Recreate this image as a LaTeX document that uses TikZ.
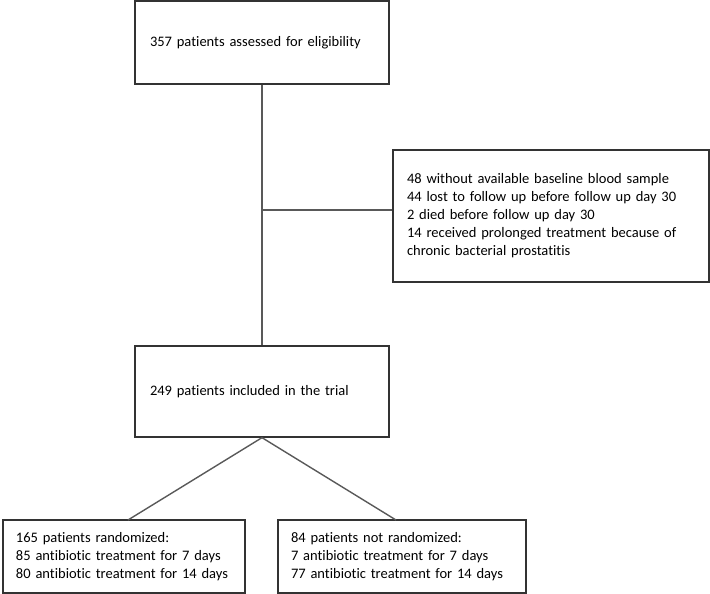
\documentclass[tikz,border=0pt]{standalone}
\usepackage{fontspec}
\setmainfont[Ligatures=NoCommon]{Carlito}
\usepackage{tikz}
\usetikzlibrary{calc}

\begin{document}
\begin{tikzpicture}[x=1pt, y=-1pt, -,
  box/.style={draw=black!80, line width=1.3pt, rectangle, align=left, inner sep=0pt,
    font=\fontsize{14.5}{18}\selectfont},
  link/.style={draw=black!65, line width=1.4pt}]
\useasboundingbox (0,0) rectangle (710,594);
\node[box, minimum width=254, minimum height=83, text width=224] (assess) at (262,42.5) {357 patients assessed for eligibility};
\node[box, minimum width=316, minimum height=132, text width=288] (excl) at (551,216) {48 without available baseline blood sample\\
44 lost to follow up before follow up day 30\\
2 died before follow up day 30\\
14 received prolonged treatment because of\\
chronic bacterial prostatitis};
\node[box, minimum width=254, minimum height=91, text width=224] (incl) at (262,391.5) {249 patients included in the trial};
\node[box, minimum width=242, minimum height=73, text width=216] (rand) at (124,556.5) {165 patients randomized:\\
85 antibiotic treatment for 7 days\\
80 antibiotic treatment for 14 days};
\node[box, minimum width=248, minimum height=73, text width=222] (nonrand) at (402,556.5) {84 patients not randomized:\\
7 antibiotic treatment for 7 days\\
77 antibiotic treatment for 14 days};
\coordinate (j) at (262,210);
\coordinate (r) at (128,520);
\coordinate (n) at (396,520);
\path[link]
(assess.south) edge (incl.north)
(j) edge (j -| excl.west)
(incl.south) edge (r)
(incl.south) edge (n);
\end{tikzpicture}
\end{document}
